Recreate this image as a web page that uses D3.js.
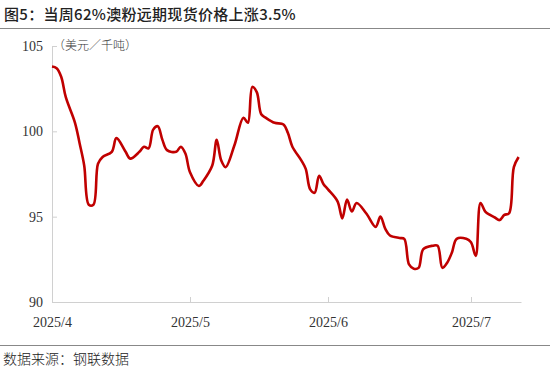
<!DOCTYPE html>
<html>
<head>
<meta charset="utf-8">
<script src="https://cdn.jsdelivr.net/npm/d3@7"></script>
<style>
  html, body { margin: 0; padding: 0; background: #fff; }
  svg { display: block; }
  .axis path, .axis line { stroke: #d0d0d0; }
  .axis text { font-family: "Liberation Serif", serif; font-size: 14px; fill: #333; }
</style>
</head>
<body>
<div id="chart"></div>
<script>
// Price series, 62% Australian fines (USD/dmt).
var dates = [
  '2025-04-01','2025-04-02','2025-04-03','2025-04-04','2025-04-06','2025-04-07','2025-04-08','2025-04-09','2025-04-10',
  '2025-04-11','2025-04-12','2025-04-14','2025-04-15','2025-04-17','2025-04-18','2025-04-20','2025-04-21',
  '2025-04-22','2025-04-23','2025-04-24','2025-04-25','2025-04-26','2025-04-28','2025-04-29','2025-04-30',
  '2025-05-01','2025-05-03','2025-05-04','2025-05-06','2025-05-07','2025-05-08','2025-05-09','2025-05-11',
  '2025-05-13','2025-05-14','2025-05-15','2025-05-16','2025-05-17','2025-05-18','2025-05-20','2025-05-22',
  '2025-05-23','2025-05-24','2025-05-26','2025-05-27','2025-05-28','2025-05-29','2025-05-30','2025-05-31',
  '2025-06-01','2025-06-03','2025-06-04','2025-06-05','2025-06-06','2025-06-07','2025-06-09','2025-06-11',
  '2025-06-12','2025-06-13','2025-06-14','2025-06-16','2025-06-17','2025-06-18','2025-06-19','2025-06-20',
  '2025-06-21','2025-06-23','2025-06-24','2025-06-25','2025-06-26','2025-06-27','2025-06-28','2025-06-30',
  '2025-07-01','2025-07-02','2025-07-03','2025-07-04','2025-07-05','2025-07-06','2025-07-07','2025-07-08',
  '2025-07-09','2025-07-10','2025-07-11'
];
var prices = [
  103.8, 103.7, 103.2, 102.0, 100.5, 99.3, 98.0, 95.7, 95.7,
  98.1, 98.5, 98.8, 99.6, 98.8, 98.4, 98.8, 99.1,
  99.0, 100.1, 100.3, 99.5, 98.9, 98.8, 99.1, 98.7,
  97.6, 96.8, 97.1, 98.0, 99.5, 98.3, 97.9, 99.2,
  100.8, 100.5, 102.6, 102.3, 101.0, 100.8, 100.5, 100.4,
  99.9, 99.1, 98.3, 97.8, 96.6, 96.4, 97.4, 96.9,
  96.6, 95.9, 94.9, 96.0, 95.3, 95.8, 95.2, 94.4,
  95.0, 94.3, 93.9, 93.75, 93.7, 92.2, 91.95, 92.0,
  93.1, 93.3, 93.3, 92.0, 92.3, 92.9, 93.7, 93.7,
  93.5, 92.7, 95.8, 95.3, 95.1, 94.95, 94.8, 95.1,
  95.2, 97.9, 98.5
];

// Axis ticks.
var monthTicks = ['2025-04-01','2025-05-01','2025-06-01','2025-07-01'];
var monthLabels = ['2025/4','2025/5','2025/6','2025/7'];
var yTicks = [90, 95, 100, 105];

var parse = d3.timeParse('%Y-%m-%d');
var data = dates.map(function(d, i) { return { date: parse(d), value: prices[i] }; });

var W = 550, H = 372;
var margin = { top: 46, right: 29, bottom: 70, left: 52 };
var width = W - margin.left - margin.right;
var height = H - margin.top - margin.bottom;

var svg = d3.select('#chart').append('svg')
  .attr('width', W)
  .attr('height', H);

// Title and rules.
svg.append('text')
  .attr('x', 4)
  .attr('y', 20)
  .attr('font-family', '"Noto Sans CJK SC", sans-serif')
  .attr('font-size', 15)
  .attr('font-weight', 500)
  .attr('letter-spacing', 0.3)
  .attr('fill', '#222')
  .text('图5：当周62%澳粉远期现货价格上涨3.5%');

svg.append('line')
  .attr('x1', 0).attr('x2', W)
  .attr('y1', 28.5).attr('y2', 28.5)
  .attr('stroke', '#888');

svg.append('line')
  .attr('x1', 0).attr('x2', W)
  .attr('y1', 345.5).attr('y2', 345.5)
  .attr('stroke', '#888');

svg.append('text')
  .attr('x', 3)
  .attr('y', 364)
  .attr('font-family', '"Noto Sans CJK SC", sans-serif')
  .attr('font-size', 14)
  .attr('font-weight', 300)
  .attr('fill', '#222')
  .text('数据来源：钢联数据');

var g = svg.append('g')
  .attr('transform', 'translate(' + margin.left + ',' + margin.top + ')');

// Month spacing on the source chart is not proportional to days, so piecewise.
var x = d3.scaleTime()
  .domain([parse('2025-04-01'), parse('2025-05-01'), parse('2025-06-01'), parse('2025-07-01'), new Date(2025, 6, 11, 12)])
  .range([0, 138, 276, 419, width]);

var y = d3.scaleLinear()
  .domain([90, 105])
  .range([height, 0]);

var xAxis = d3.axisBottom(x)
  .tickValues(monthTicks.map(parse))
  .tickFormat(function(d, i) { return monthLabels[i]; })
  .tickSizeInner(-5)
  .tickSizeOuter(0)
  .tickPadding(15);

var yAxis = d3.axisLeft(y)
  .tickValues(yTicks)
  .tickSizeInner(-5)
  .tickSizeOuter(0)
  .tickPadding(9);

g.append('g')
  .attr('class', 'x axis')
  .attr('transform', 'translate(0,' + height + ')')
  .call(xAxis);

g.append('g')
  .attr('class', 'y axis')
  .call(yAxis);

g.append('text')
  .attr('x', 1)
  .attr('y', 4)
  .attr('font-family', '"Noto Sans CJK SC", sans-serif')
  .attr('font-size', 12)
  .attr('font-weight', 300)
  .attr('fill', '#333')
  .text('（美元／千吨）');

var line = d3.line()
  .x(function(d) { return x(d.date); })
  .y(function(d) { return y(d.value); })
  .curve(d3.curveCatmullRom.alpha(0.5));

g.append('path')
  .datum(data)
  .attr('fill', 'none')
  .attr('stroke', '#c00000')
  .attr('stroke-width', 2.6)
  .attr('stroke-linejoin', 'round')
  .attr('d', line);
</script>
</body>
</html>
